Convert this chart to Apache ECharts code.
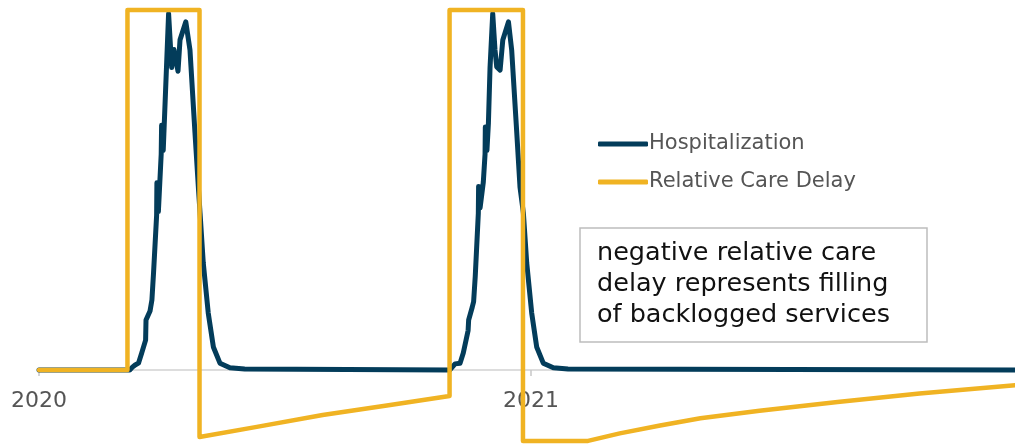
<!DOCTYPE html>
<html>
<head>
<meta charset="utf-8">
<script src="https://cdn.jsdelivr.net/npm/echarts@6/dist/echarts.min.js"></script>
<style>
  html, body { margin: 0; padding: 0; background: #ffffff; }
  #chart { width: 1015px; height: 444px; }
</style>
</head>
<body>
<div id="chart"></div>
<script>
// Days since 2020-01-01
const yearLabels = ['2020', '2021'];
const yearStartDays = [0, 366];

const hospDays = [0, 67.5, 69.5, 71.5, 74, 76.4, 79.3, 79.6, 82.6, 84, 85.2, 87.5, 87.7, 88.8, 90.9, 91.2, 92.4, 96.4, 98.7, 100.4, 103.4, 104.9, 109.2, 112.3, 116, 118.5, 119.8, 122.2, 125.9, 129.7, 134.6, 142, 153, 153.5,
  305.5, 309.5, 313.2, 315.6, 319.2, 319.6, 322.3, 323.3, 324.5, 326.8, 327, 328.1, 330.5, 331.8, 332, 333.2, 334.3, 335.5, 337.5, 339.2, 340.5, 343, 345, 349.2, 351.6, 355.4, 357.8, 360.3, 362.8, 366.5, 370.2, 375.1, 382.6, 393.5, 394, 726];
const hospValues = [0, 0, 0.8, 1.4, 1.9, 4.7, 8.3, 13.9, 16.4, 19.5, 27, 43, 52, 44, 60, 68, 61, 99, 84, 89, 83, 91.7, 96.7, 88.9, 66, 51, 43.6, 29.7, 15.8, 6.4, 1.9, 0.6, 0.3, 0,
  0, 1.7, 1.9, 4.7, 11, 13.9, 17.5, 19, 26, 43.6, 51, 45, 52.2, 60, 67.5, 61, 68.6, 84, 99, 88.9, 84.2, 83.3, 91.7, 96.7, 88.9, 65.8, 50.8, 43.6, 29.7, 15.8, 6.4, 1.9, 0.6, 0.3, 0, 0];

const delayDays = [0, 65.8, 65.8, 119.4, 119.4, 162, 211, 260, 305.4, 305.4, 360, 360, 408.4, 432, 462, 492, 536, 594, 655, 726];
const delayValues = [0, 0, 100, 100, -18.6, -15.8, -12.5, -9.8, -7.2, 100, 100, -19.7, -19.7, -17.6, -15.4, -13.4, -11.3, -8.9, -6.5, -4.2];

const seriesNames = ['Hospitalization', 'Relative Care Delay'];
const noteText = 'negative relative care\ndelay represents filling\nof backlogged services';

const BLUE = '#033C5A';
const GOLD = '#F0B323';
const FONT = 'DejaVu Sans';

const hospData = hospDays.map((d, i) => [d, hospValues[i]]);
const delayData = delayDays.map((d, i) => [d, delayValues[i]]);

const chart = echarts.init(document.getElementById('chart'), null, { renderer: 'canvas' });
chart.setOption({
  animation: false,
  backgroundColor: '#ffffff',
  grid: { left: 39, right: 0, top: 10, bottom: 2, containLabel: false, outerBoundsMode: 'none' },
  xAxis: {
    type: 'value',
    min: 0,
    max: 726,
    interval: 366,
    position: 'bottom',
    offset: -72,
    splitLine: { show: false },
    axisLine: { show: true, onZero: false, lineStyle: { color: '#d2d2d2', width: 1.5 } },
    axisTick: { show: true, length: 6, customValues: yearStartDays, lineStyle: { color: '#c8c8c8', width: 1.5 } },
    axisLabel: {
      show: true,
      customValues: yearStartDays,
      margin: 20,
      fontSize: 22,
      fontFamily: FONT,
      color: '#555555',
      formatter: function (v) {
        const idx = yearStartDays.indexOf(v);
        return idx >= 0 ? yearLabels[idx] : '';
      }
    }
  },
  yAxis: {
    type: 'value',
    min: -20,
    max: 100,
    show: false,
    splitLine: { show: false }
  },
  legend: {
    orient: 'vertical',
    left: 593,
    top: 127,
    icon: 'roundRect',
    itemWidth: 50,
    itemHeight: 5,
    itemGap: 14,
    data: seriesNames,
    textStyle: { fontSize: 21, lineHeight: 24, fontFamily: FONT, color: '#555555', padding: [0, 0, 0, -4] }
  },
  series: [
    {
      name: seriesNames[0],
      type: 'line',
      data: hospData,
      symbol: 'none',
      clip: false,
      color: BLUE,
      lineStyle: { color: BLUE, width: 5, cap: 'round', join: 'round' },
      z: 2
    },
    {
      name: seriesNames[1],
      type: 'line',
      data: delayData,
      symbol: 'none',
      clip: false,
      color: GOLD,
      lineStyle: { color: GOLD, width: 4.5, cap: 'round', join: 'round' },
      z: 3
    }
  ],
  graphic: [
    {
      type: 'rect',
      shape: { x: 580, y: 228, width: 347, height: 114 },
      style: { fill: '#ffffff', stroke: '#bdbdbd', lineWidth: 1.5 },
      z: 10
    },
    {
      type: 'text',
      x: 597,
      y: 237.5,
      style: {
        text: noteText,
        font: '25.5px "DejaVu Sans"',
        fill: '#111111',
        lineHeight: 31,
        verticalAlign: 'top',
        align: 'left'
      },
      z: 11
    }
  ]
});
</script>
</body>
</html>
